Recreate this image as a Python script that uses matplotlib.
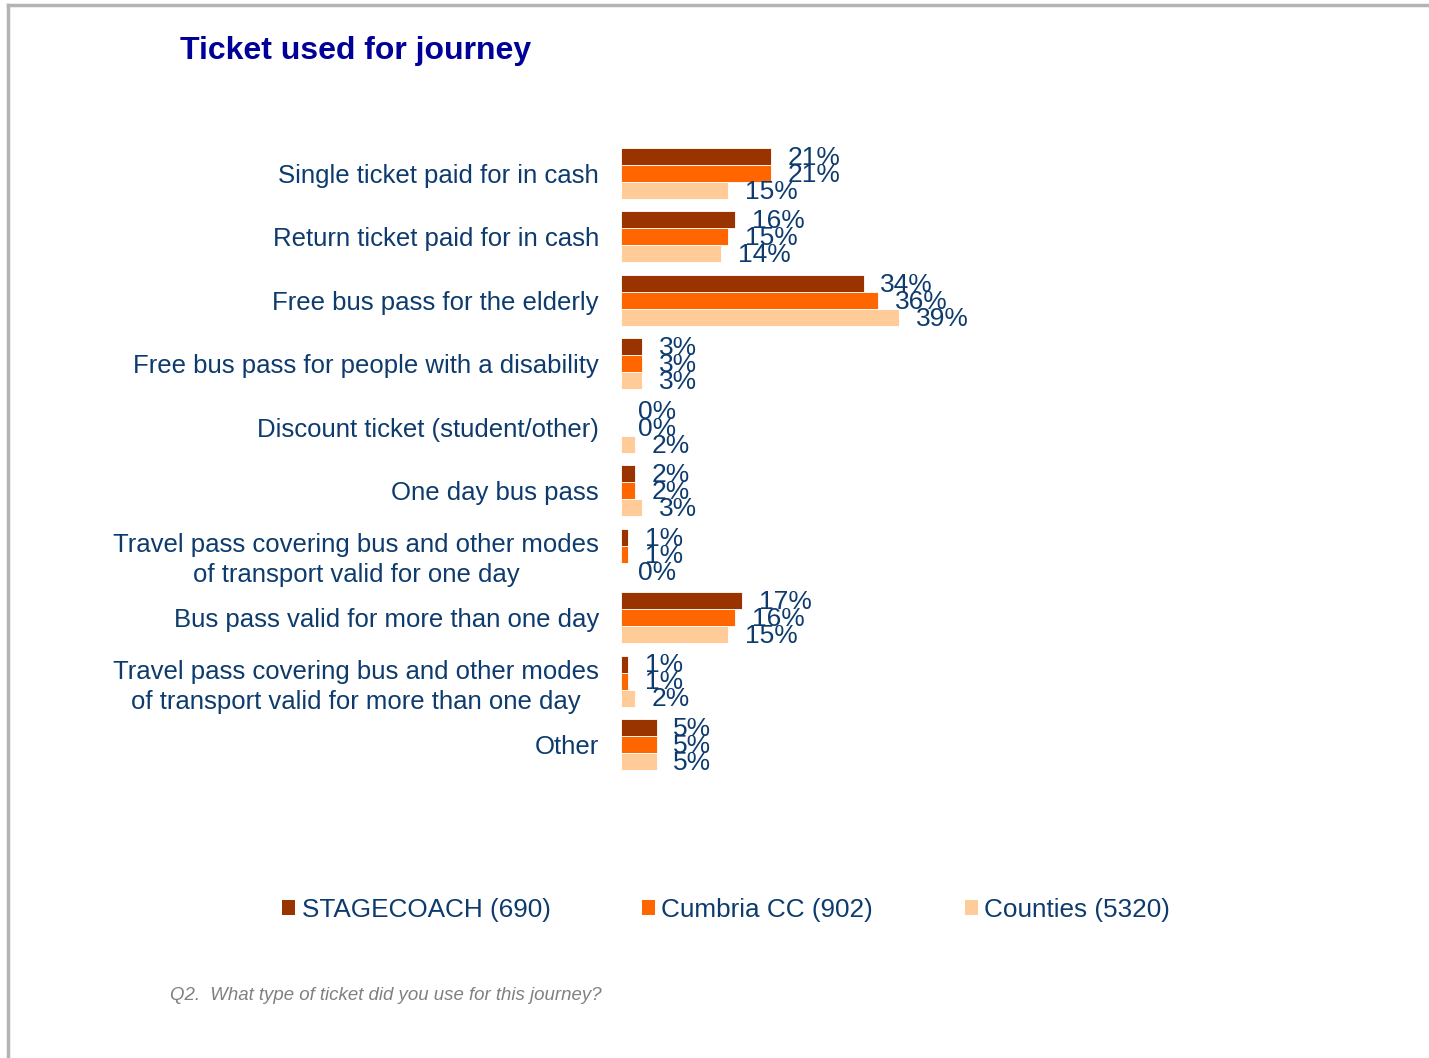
import matplotlib.pyplot as plt
from matplotlib.patches import Patch
from matplotlib.lines import Line2D
import numpy as np

plt.rcParams['font.family'] = ['Liberation Sans', 'DejaVu Sans']

# Datos del gráfico
categorias = [
    "Single ticket paid for in cash",
    "Return ticket paid for in cash",
    "Free bus pass for the elderly",
    "Free bus pass for people with a disability",
    "Discount ticket (student/other)",
    "One day bus pass",
    "Travel pass covering bus and other modes\nof transport valid for one day",
    "Bus pass valid for more than one day",
    "Travel pass covering bus and other modes\nof transport valid for more than one day",
    "Other",
]
stagecoach = [21, 16, 34, 3, 0, 2, 1, 17, 1, 5]
cumbria = [21, 15, 36, 3, 0, 2, 1, 16, 1, 5]
counties = [15, 14, 39, 3, 2, 3, 0, 15, 2, 5]

series = ["STAGECOACH (690)", "Cumbria CC (902)", "Counties (5320)"]
colores = ["#993300", "#FF6600", "#FFCC99"]

TXT = "#0D3B6E"

W, H = 1429, 1058
fig = plt.figure(figsize=(W / 100, H / 100), dpi=100)

# Ejes colocados en píxeles
ax = fig.add_axes([621 / W, 1 - 780 / H, 714 / W, 640 / H])

y = np.arange(len(categorias))
alto = 0.268
for i, (vals, col) in enumerate(zip([stagecoach, cumbria, counties], colores)):
    pos = y + (i - 1) * alto
    ax.barh(pos, vals, height=alto, color=col, edgecolor="white", linewidth=0.6)
    for p, v in zip(pos, vals):
        ax.annotate(f"{v}%", (v, p), xytext=(12, -1), textcoords="offset points",
                    va="center", ha="left", fontsize=19, color=TXT)

ax.set_xlim(0, 100)
ax.set_ylim(9.56, -0.528)
ax.set_yticks(y)
ax.set_yticklabels(categorias, fontsize=18.5, color=TXT)
for lbl in ax.get_yticklabels():
    lbl.set_multialignment("center")
    lbl.set_linespacing(1.35)
ax.tick_params(axis="y", length=0, pad=16)
ax.set_xticks([])
for s in ax.spines.values():
    s.set_visible(False)

# Título
fig.text(180 / W, 1 - 51 / H, "Ticket used for journey", fontsize=23,
         fontweight="bold", color="#000099", va="center", ha="left")

# Leyenda
handles = [Patch(facecolor=c, edgecolor="none") for c in colores]
fig.legend(handles, series, loc="center", bbox_to_anchor=(726 / W, 1 - 910 / H),
           ncol=3, frameon=False, fontsize=18.8, labelcolor=TXT,
           handlelength=0.5, handleheight=0.5, handletextpad=0.25,
           columnspacing=3.5)

# Nota al pie
fig.text(170 / W, 1 - 995 / H, "Q2.  What type of ticket did you use for this journey?",
         fontsize=13.4, style="italic", color="#808080", va="center", ha="left")

# Marco gris (arriba e izquierda)
fig.add_artist(Line2D([8 / W, 8 / W], [0, 1 - 5 / H], color="#B4B4B4", lw=2.5,
                      transform=fig.transFigure))
fig.add_artist(Line2D([8 / W, 1], [1 - 5 / H, 1 - 5 / H], color="#B4B4B4", lw=2.5,
                      transform=fig.transFigure))

fig.savefig("out.png", dpi=100, facecolor="white")
